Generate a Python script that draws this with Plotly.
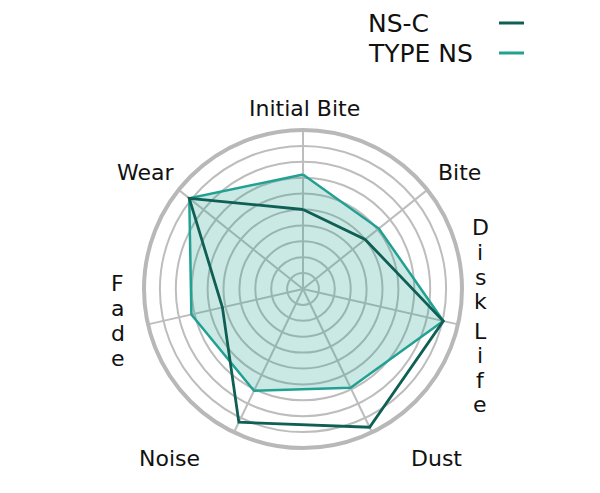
import plotly.graph_objects as go

# axis names, clockwise from the top
categories = ['Initial Bite', 'Bite', 'Disk Life', 'Dust', 'Noise', 'Fade', 'Wear']

# values (outer ring = 10)
type_ns = [7.2, 6.1, 9.05, 6.9, 7.1, 7.2, 9.15]
ns_c = [5.0, 5.0, 9.05, 9.65, 9.3, 5.2, 9.15]

legend_names = ['NS-C', 'TYPE NS']

DARK = '#105f55'
TEAL = '#22a193'
GRID = '#bdbdbd'
FONT = 'DejaVu Sans, Liberation Sans, sans-serif'
W, H = 600, 493
PAD = 8  # the page body margin pushes the plot 8px right and down


def paper(x, y):
    # screen pixel -> paper coordinates
    return (x - PAD) / W, 1 - (y - PAD) / H


fig = go.Figure()

# filled series first so the dark outline sits on top
fig.add_trace(go.Scatterpolar(
    r=type_ns + type_ns[:1], theta=categories + categories[:1],
    mode='lines', line=dict(color=TEAL, width=2.5),
    fill='toself', fillcolor='rgba(34,161,147,0.24)',
    name=legend_names[1], showlegend=False
))
fig.add_trace(go.Scatterpolar(
    r=ns_c + ns_c[:1], theta=categories + categories[:1],
    mode='lines', line=dict(color=DARK, width=2.8),
    name=legend_names[0], showlegend=False
))

cx, cy, rad = 303, 289, 159
x0, y0 = paper(cx - rad, cy + rad)
x1, y1 = paper(cx + rad, cy - rad)

fig.update_layout(
    width=W, height=H,
    margin=dict(l=0, r=0, t=0, b=0),
    paper_bgcolor='white',
    font=dict(family=FONT, color='#111111'),
    polar=dict(
        domain=dict(x=[x0, x1], y=[y0, y1]),
        bgcolor='white',
        radialaxis=dict(
            range=[0, 10], tickvals=list(range(1, 10)), showticklabels=False,
            ticks='', showline=False, gridcolor=GRID, gridwidth=1.5
        ),
        angularaxis=dict(
            direction='clockwise', rotation=90, showticklabels=False, ticks='',
            linecolor='#b8b8b8', linewidth=4, gridcolor=GRID, gridwidth=2
        ),
    ),
)

# axis labels
labels = [
    ('Initial Bite', 304, 108),
    ('Bite', 459, 172),
    ('Dust', 436, 458),
    ('Noise', 169, 458),
    ('Wear', 145, 172),
]
# vertical labels, one letter at a time
for ch, py in zip('Disk', [228, 252.5, 277, 301.5]):
    labels.append((ch, 480, py))
for ch, py in zip('Life', [331, 355.5, 380, 404.5]):
    labels.append((ch, 480, py))
for ch, py in zip('Fade', [283, 308.5, 333, 358]):
    labels.append((ch, 118, py))

for text, px_x, px_y in labels:
    ax, ay = paper(px_x, px_y)
    fig.add_annotation(
        text=text, x=ax, y=ay, xref='paper', yref='paper',
        showarrow=False, xanchor='center', yanchor='middle',
        font=dict(size=22, family=FONT, color='#111111')
    )

# legend: name on the left, short line on the right
for i, (name, color) in enumerate(zip(legend_names, [DARK, TEAL])):
    y_px = 23 + i * 30
    tx, ty = paper(366, y_px)
    fig.add_annotation(
        text=name, x=tx, y=ty, xref='paper', yref='paper',
        showarrow=False, xanchor='left', yanchor='middle',
        font=dict(size=25, family=FONT, color='#111111')
    )
    lx0, ly = paper(499, y_px)
    lx1, _ = paper(524, y_px)
    fig.add_shape(
        type='line', xref='paper', yref='paper',
        x0=lx0, x1=lx1, y0=ly, y1=ly,
        line=dict(color=color, width=3)
    )

fig.write_html('out.html')
